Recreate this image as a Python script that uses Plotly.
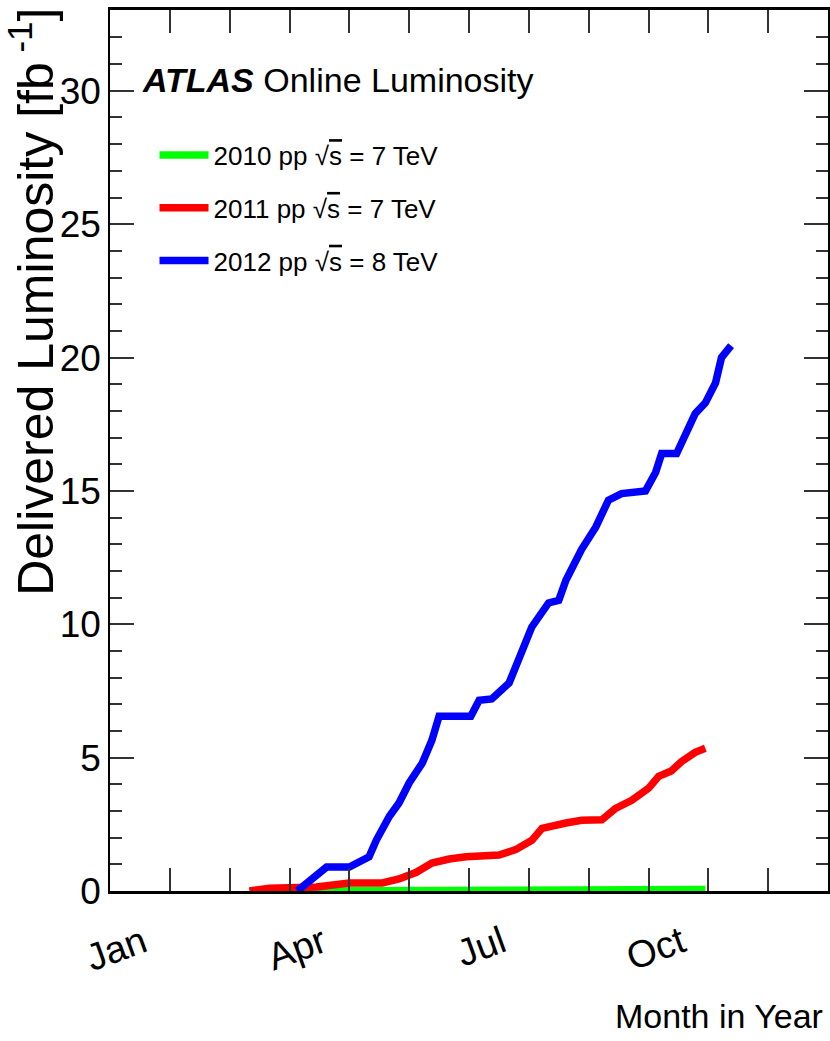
import plotly.graph_objects as go

# ---- data (x in months since Jan 1, y in fb^-1) ----
m2010 = [2.92, 5.05, 5.10, 9.10, 9.20, 9.95]
l2010 = [0.00, 0.00, 0.01, 0.02, 0.06, 0.06]

m2011 = [2.33, 2.67, 3.45, 4.00, 4.55, 4.83, 5.12, 5.38, 5.67, 5.95, 6.50, 6.78,
         7.05, 7.22, 7.62, 7.88, 8.22, 8.45, 8.72, 9.00, 9.17, 9.38, 9.55, 9.78, 9.95]
l2011 = [0.00, 0.10, 0.15, 0.30, 0.30, 0.45, 0.70, 1.05, 1.20, 1.28, 1.35, 1.55,
         1.90, 2.35, 2.55, 2.65, 2.67, 3.10, 3.40, 3.85, 4.30, 4.50, 4.85, 5.20, 5.35]

m2012 = [3.13, 3.38, 3.62, 4.00, 4.33, 4.45, 4.67, 4.83, 5.00, 5.22, 5.38, 5.50,
         6.03, 6.17, 6.38, 6.67, 6.83, 7.05, 7.33, 7.50, 7.62, 7.88, 8.12, 8.33,
         8.55, 8.95, 9.12, 9.22, 9.47, 9.62, 9.78, 9.95, 10.12, 10.22, 10.38]
l2012 = [0.00, 0.50, 0.90, 0.90, 1.28, 1.90, 2.80, 3.30, 4.05, 4.80, 5.65, 6.55,
         6.55, 7.15, 7.20, 7.80, 8.65, 9.90, 10.80, 10.90, 11.65, 12.80, 13.65, 14.65,
         14.90, 15.00, 15.70, 16.40, 16.40, 17.20, 17.90, 18.30, 19.05, 20.00, 20.45]

month_label_ticks = [0, 3, 6, 9]
month_labels = ["Jan", "Apr", "Jul", "Oct"]
y_ticks = [0, 5, 10, 15, 20, 25, 30]

series_names = [
    "2010 pp √<span style='text-decoration:overline'>s</span> = 7 TeV",
    "2011 pp √<span style='text-decoration:overline'>s</span> = 7 TeV",
    "2012 pp √<span style='text-decoration:overline'>s</span> = 8 TeV",
]
colors = ["#00ff00", "#ff0000", "#0000ff"]

FONT = "Liberation Sans, Arial, sans-serif"

fig = go.Figure()
for i, (xs, ys) in enumerate([(m2010, l2010), (m2011, l2011), (m2012, l2012)]):
    fig.add_trace(go.Scatter(
        x=xs, y=ys, mode="lines", name=series_names[i],
        line=dict(color=colors[i], width=7.5), legendgroup=f"g{i}",
        hoverinfo="skip"))

fig.update_layout(
    width=830, height=1041,
    margin=dict(l=110, r=0, t=10, b=150),
    paper_bgcolor="white", plot_bgcolor="white",
    font=dict(family=FONT, color="black"),
    showlegend=True,
    legend=dict(
        x=0.062, y=0.862, xanchor="left", yanchor="top",
        bgcolor="rgba(0,0,0,0)", font=dict(size=26, family=FONT),
        traceorder="grouped", tracegroupgap=16, itemwidth=49,
    ),
    xaxis=dict(
        range=[0, 12], tickvals=month_label_ticks, ticktext=month_labels,
        ticks="inside", ticklen=23, tickwidth=1.5, tickcolor="#333",
        minor=dict(dtick=1, tick0=0, ticks="inside", ticklen=23, tickwidth=1.5,
                   tickcolor="#333"),
        showline=True, linewidth=3, linecolor="black",
        mirror="ticks", showgrid=False, zeroline=False,
        tickangle=-20, tickfont=dict(size=38, family=FONT),
        ticklabelshift=33, ticklabelstandoff=12,
        layer="above traces",
    ),
    yaxis=dict(
        range=[0, 33.03], tickvals=y_ticks,
        ticks="inside", ticklen=24, tickwidth=2, tickcolor="#333",
        minor=dict(dtick=1, ticks="inside", ticklen=12, tickwidth=2, tickcolor="#333"),
        showline=True, linewidth=1.5, linecolor="black",
        mirror="ticks", showgrid=False, zeroline=False,
        tickfont=dict(size=37, family=FONT),
        layer="above traces",
    ),
    annotations=[
        dict(text="<b><i>ATLAS</i></b> Online Luminosity", xref="paper", yref="paper",
             x=0.0417, y=0.9206, xanchor="left", yanchor="middle", showarrow=False,
             font=dict(size=34, family=FONT)),
        dict(text="Delivered Luminosity [fb<sup> -1</sup>]", xref="paper", yref="paper",
             x=-0.1097, y=0.669, xanchor="center", yanchor="middle", textangle=-90,
             showarrow=False, font=dict(size=50, family=FONT)),
        dict(text="Month in Year", xref="paper", yref="paper",
             x=0.996, y=-0.1419, xanchor="right", yanchor="middle", showarrow=False,
             font=dict(size=34, family=FONT)),
    ],
)

fig.write_html("out.html")
